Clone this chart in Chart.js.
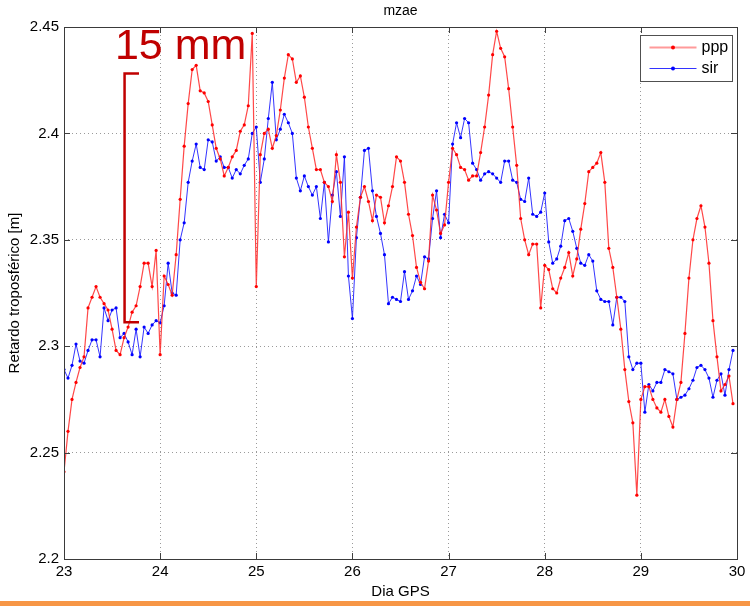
<!DOCTYPE html>
<html>
<head>
<meta charset="utf-8">
<script src="https://cdn.jsdelivr.net/npm/chart.js@4"></script>
<style>
  html, body { margin: 0; padding: 0; background: #fff; }
  canvas { display: block; }
</style>
</head>
<body>
<canvas id="mzaeChart" width="750" height="606"></canvas>
<script>
// hourly samples, first sample at day 23.0
const startDay = 23;
const samplesPerDay = 24;

const ppp = [
  // 23
  2.241, 2.260, 2.275, 2.283, 2.290, 2.295, 2.318, 2.323, 2.328, 2.323, 2.320, 2.317,
  2.308, 2.298, 2.296, 2.304, 2.309, 2.316, 2.319, 2.328, 2.339, 2.339, 2.328, 2.345,
  // 24
  2.296, 2.333, 2.329, 2.324, 2.343, 2.369, 2.394, 2.414, 2.430, 2.432, 2.420, 2.419,
  2.415, 2.404, 2.393, 2.388, 2.380, 2.384, 2.389, 2.392, 2.401, 2.404, 2.413, 2.447,
  // 25
  2.328, 2.390, 2.400, 2.402, 2.393, 2.399, 2.411, 2.426, 2.437, 2.435, 2.424, 2.427,
  2.417, 2.403, 2.393, 2.383, 2.383, 2.377, 2.375, 2.368, 2.390, 2.377, 2.342, 2.363,
  // 26
  2.332, 2.356, 2.370, 2.375, 2.368, 2.359, 2.371, 2.370, 2.358, 2.366, 2.375, 2.389,
  2.387, 2.377, 2.362, 2.352, 2.337, 2.330, 2.327, 2.340, 2.371, 2.364, 2.353, 2.357,
  // 27
  2.377, 2.393, 2.390, 2.384, 2.383, 2.378, 2.380, 2.380, 2.391, 2.403, 2.418, 2.437,
  2.448, 2.440, 2.436, 2.421, 2.403, 2.385, 2.360, 2.350, 2.343, 2.348, 2.348, 2.318,
  // 28
  2.338, 2.336, 2.327, 2.325, 2.332, 2.337, 2.344, 2.333, 2.341, 2.355, 2.367, 2.382,
  2.384, 2.386, 2.391, 2.377, 2.346, 2.337, 2.323, 2.308, 2.289, 2.274, 2.264, 2.230,
  // 29
  2.275, 2.281, 2.281, 2.275, 2.271, 2.269, 2.275, 2.267, 2.262, 2.275, 2.283, 2.306,
  2.332, 2.350, 2.360, 2.366, 2.356, 2.339, 2.312, 2.295, 2.279, 2.282, 2.286, 2.273
];

const sir = [
  // 23
  2.289, 2.285, 2.291, 2.301, 2.293, 2.292, 2.298, 2.303, 2.303, 2.295, 2.318, 2.312,
  2.317, 2.318, 2.304, 2.306, 2.302, 2.296, 2.308, 2.295, 2.309, 2.306, 2.310, 2.312,
  // 24
  2.311, 2.319, 2.339, 2.325, 2.324, 2.350, 2.358, 2.377, 2.387, 2.395, 2.384, 2.383,
  2.397, 2.396, 2.387, 2.389, 2.384, 2.384, 2.379, 2.383, 2.381, 2.385, 2.388, 2.400,
  // 25
  2.403, 2.377, 2.388, 2.407, 2.424, 2.397, 2.402, 2.409, 2.405, 2.400, 2.379, 2.373,
  2.380, 2.375, 2.371, 2.375, 2.360, 2.377, 2.349, 2.371, 2.382, 2.361, 2.389, 2.333,
  // 26
  2.313, 2.351, 2.370, 2.392, 2.393, 2.373, 2.361, 2.353, 2.343, 2.320, 2.323, 2.322,
  2.321, 2.335, 2.322, 2.326, 2.333, 2.329, 2.342, 2.341, 2.360, 2.373, 2.351, 2.362,
  // 27
  2.358, 2.395, 2.405, 2.398, 2.407, 2.405, 2.386, 2.383, 2.378, 2.381, 2.382, 2.381,
  2.379, 2.377, 2.387, 2.387, 2.378, 2.377, 2.369, 2.368, 2.379, 2.362, 2.361, 2.363,
  // 28
  2.372, 2.349, 2.339, 2.341, 2.347, 2.359, 2.360, 2.354, 2.346, 2.339, 2.338, 2.343,
  2.340, 2.326, 2.322, 2.321, 2.321, 2.310, 2.323, 2.323, 2.321, 2.295, 2.289, 2.292,
  // 29
  2.292, 2.269, 2.282, 2.279, 2.283, 2.283, 2.289, 2.288, 2.287, 2.275, 2.276, 2.277,
  2.280, 2.284, 2.290, 2.291, 2.289, 2.285, 2.276, 2.284, 2.287, 2.277, 2.289, 2.298
];

const xTicks = [23, 24, 25, 26, 27, 28, 29, 30];
const xTickLabels = ['23', '24', '25', '26', '27', '28', '29', '30'];
const yTicks = [2.2, 2.25, 2.3, 2.35, 2.4, 2.45];
const yTickLabels = ['2.2', '2.25', '2.3', '2.35', '2.4', '2.45'];

const FONT = '"Liberation Sans", Arial, Helvetica, sans-serif';

function toPoints(values) {
  return values.map((v, i) => ({ x: startDay + i / samplesPerDay, y: v }));
}

// MATLAB-like decorations: box, inward ticks, legend, title, the "15 mm" note
const matlabFrame = {
  id: 'matlabFrame',
  beforeDraw(chart) {
    const ctx = chart.ctx;
    ctx.save();
    ctx.fillStyle = '#f79646';
    ctx.fillRect(0, chart.height - 5, chart.width, 5);
    ctx.restore();
  },
  afterDraw(chart) {
    const ctx = chart.ctx;
    const a = chart.chartArea;
    const xs = chart.scales.x;
    const ys = chart.scales.y;
    ctx.save();

    // inward tick marks
    ctx.strokeStyle = '#404040';
    ctx.lineWidth = 1;
    ctx.beginPath();
    xTicks.forEach(v => {
      const px = Math.round(xs.getPixelForValue(v)) + 0.5;
      ctx.moveTo(px, a.bottom); ctx.lineTo(px, a.bottom - 6);
      ctx.moveTo(px, a.top); ctx.lineTo(px, a.top + 6);
    });
    yTicks.forEach(v => {
      const py = Math.round(ys.getPixelForValue(v)) + 0.5;
      ctx.moveTo(a.left, py); ctx.lineTo(a.left + 6, py);
      ctx.moveTo(a.right, py); ctx.lineTo(a.right - 6, py);
    });
    ctx.stroke();

    // axes box
    ctx.strokeStyle = '#3a3a3a';
    ctx.strokeRect(Math.round(a.left) + 0.5, Math.round(a.top) + 0.5,
      Math.round(a.right - a.left), Math.round(a.bottom - a.top));

    // title
    ctx.fillStyle = '#000';
    ctx.font = '14px ' + FONT;
    ctx.textAlign = 'center';
    ctx.textBaseline = 'middle';
    ctx.fillText('mzae', (a.left + a.right) / 2, 11);

    // legend
    const bw = 92, bh = 46;
    const bx = Math.round(a.right - 5 - bw) + 0.5;
    const by = Math.round(a.top + 8) + 0.5;
    ctx.fillStyle = '#fff';
    ctx.fillRect(bx, by, bw, bh);
    ctx.strokeStyle = '#505050';
    ctx.strokeRect(bx, by, bw, bh);
    ctx.textAlign = 'left';
    ctx.font = '16px ' + FONT;
    chart.data.datasets.forEach((ds, i) => {
      const ry = by + 12 + i * 21;
      ctx.strokeStyle = ds.legendLine;
      ctx.lineWidth = i === 0 ? 2 : 1;
      ctx.beginPath();
      ctx.moveTo(bx + 9, ry); ctx.lineTo(bx + 56, ry);
      ctx.stroke();
      ctx.fillStyle = ds.pointBackgroundColor;
      ctx.beginPath();
      ctx.arc(bx + 32.5, ry, 2, 0, Math.PI * 2);
      ctx.fill();
      ctx.fillStyle = '#000';
      ctx.fillText(ds.label, bx + 61, ry);
    });

    // "15 mm" bracket note
    const nx = xs.getPixelForValue(23.63);
    const nx2 = xs.getPixelForValue(23.78);
    const ny1 = ys.getPixelForValue(2.4281);
    const ny2 = ys.getPixelForValue(2.3112);
    ctx.strokeStyle = '#c00000';
    ctx.lineWidth = 2.5;
    ctx.beginPath();
    ctx.moveTo(nx2, ny1); ctx.lineTo(nx, ny1); ctx.lineTo(nx, ny2); ctx.lineTo(nx2, ny2);
    ctx.stroke();
    ctx.fillStyle = '#c00000';
    ctx.font = '43px ' + FONT;
    ctx.textBaseline = 'alphabetic';
    ctx.fillText('15 mm', xs.getPixelForValue(23.53), 59);

    ctx.restore();
  }
};

new Chart(document.getElementById('mzaeChart'), {
  type: 'line',
  data: {
    datasets: [{
      label: 'ppp',
      data: toPoints(ppp),
      borderColor: 'rgba(255, 40, 40, 0.85)',
      legendLine: '#ff9a9a',
      borderWidth: 1.2,
      pointRadius: 1.6,
      pointBorderWidth: 0,
      pointBackgroundColor: '#ff0000',
      pointBorderColor: '#ff0000',
      tension: 0
    }, {
      label: 'sir',
      data: toPoints(sir),
      borderColor: 'rgba(30, 30, 255, 0.9)',
      legendLine: '#3333ff',
      borderWidth: 1,
      pointRadius: 1.6,
      pointBorderWidth: 0,
      pointBackgroundColor: '#0000ff',
      pointBorderColor: '#0000ff',
      tension: 0
    }]
  },
  options: {
    responsive: false,
    animation: false,
    devicePixelRatio: 1,
    layout: { padding: { top: 27, right: 13, left: 0, bottom: 0 } },
    plugins: {
      legend: { display: false },
      tooltip: { enabled: false }
    },
    scales: {
      x: {
        type: 'linear',
        min: 23,
        max: 30,
        afterBuildTicks: scale => { scale.ticks = xTicks.map(v => ({ value: v })); },
        afterFit: scale => { scale.height = 47; },
        ticks: {
          padding: 4,
          color: '#000',
          font: { family: FONT, size: 15 },
          maxRotation: 0,
          callback: v => xTickLabels[xTicks.indexOf(v)]
        },
        grid: { color: '#9a9a9a', lineWidth: 1, drawTicks: false },
        border: { display: false, dash: [1, 3] },
        title: {
          display: true,
          text: 'Dia GPS',
          color: '#000',
          font: { family: FONT, size: 15 },
          padding: { top: 0, bottom: 5 }
        }
      },
      y: {
        type: 'linear',
        min: 2.2,
        max: 2.45,
        afterBuildTicks: scale => { scale.ticks = yTicks.map(v => ({ value: v })); },
        afterFit: scale => { scale.width = 64; },
        ticks: {
          padding: 5,
          color: '#000',
          font: { family: FONT, size: 15 },
          callback: v => yTickLabels[yTicks.indexOf(v)]
        },
        grid: { color: '#9a9a9a', lineWidth: 1, drawTicks: false },
        border: { display: false, dash: [1, 3] },
        title: {
          display: true,
          text: 'Retardo troposférico [m]',
          color: '#000',
          font: { family: FONT, size: 15 },
          padding: { top: 6, bottom: 0 }
        }
      }
    }
  },
  plugins: [matlabFrame]
});
</script>
</body>
</html>
